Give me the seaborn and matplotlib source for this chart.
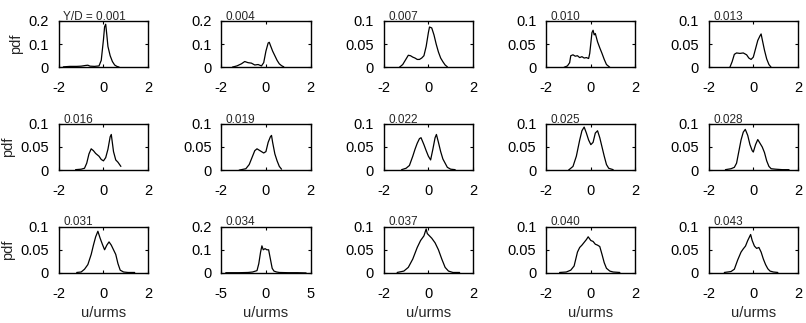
import matplotlib
matplotlib.use("Agg")
import matplotlib.pyplot as plt
import seaborn as sns
import pandas as pd

# Y/D labels for each panel (row by row)
yd_labels = ["Y/D = 0.001", "0.004", "0.007", "0.010", "0.013",
             "0.016", "0.019", "0.022", "0.025", "0.028",
             "0.031", "0.034", "0.037", "0.040", "0.043"]

# pdf curves
x01 = [-1.8, -1.5, -1.2, -1.0, -0.8, -0.7, -0.6, -0.4, -0.2, -0.1, 0.0, 0.05, 0.1, 0.15, 0.2, 0.3, 0.4, 0.5, 0.6, 0.7]
y01 = [0.002, 0.004, 0.004, 0.005, 0.008, 0.009, 0.005, 0.004, 0.006, 0.03, 0.12, 0.175, 0.186, 0.14, 0.09, 0.05, 0.025, 0.01, 0.004, 0.001]

x04 = [-1.5, -1.3, -1.1, -0.95, -0.8, -0.65, -0.5, -0.35, -0.2, -0.1, 0.0, 0.1, 0.15, 0.2, 0.3, 0.4, 0.5, 0.6, 0.7, 0.8]
y04 = [0.001, 0.006, 0.015, 0.025, 0.02, 0.018, 0.01, 0.012, 0.006, 0.02, 0.07, 0.105, 0.108, 0.095, 0.07, 0.05, 0.03, 0.015, 0.007, 0.002]

x07 = [-1.3, -1.15, -1.0, -0.9, -0.8, -0.7, -0.6, -0.5, -0.4, -0.3, -0.2, -0.1, 0.0, 0.05, 0.15, 0.25, 0.35, 0.45, 0.55, 0.65, 0.75, 0.85]
y07 = [0.0, 0.006, 0.018, 0.026, 0.025, 0.022, 0.02, 0.017, 0.017, 0.02, 0.025, 0.045, 0.075, 0.087, 0.085, 0.07, 0.05, 0.033, 0.02, 0.012, 0.005, 0.001]

x10 = [-1.2, -1.05, -0.95, -0.9, -0.8, -0.7, -0.6, -0.5, -0.4, -0.3, -0.2, -0.1, -0.05, 0.05, 0.1, 0.15, 0.2, 0.3, 0.4, 0.5, 0.6, 0.7, 0.85]
y10 = [0.0, 0.003, 0.01, 0.025, 0.027, 0.024, 0.025, 0.021, 0.023, 0.02, 0.021, 0.019, 0.03, 0.075, 0.08, 0.07, 0.073, 0.055, 0.042, 0.03, 0.017, 0.006, 0.0]

x13 = [-1.05, -0.95, -0.85, -0.75, -0.6, -0.45, -0.3, -0.2, -0.1, 0.0, 0.1, 0.2, 0.3, 0.35, 0.4, 0.5, 0.6, 0.7, 0.8]
y13 = [0.0, 0.012, 0.028, 0.031, 0.03, 0.031, 0.027, 0.02, 0.017, 0.022, 0.04, 0.058, 0.068, 0.072, 0.06, 0.037, 0.018, 0.006, 0.0]

x16 = [-1.25, -1.0, -0.85, -0.75, -0.65, -0.55, -0.45, -0.35, -0.2, -0.1, 0.0, 0.1, 0.2, 0.3, 0.35, 0.45, 0.55, 0.65, 0.78]
y16 = [0.001, 0.002, 0.004, 0.015, 0.035, 0.046, 0.042, 0.036, 0.03, 0.023, 0.02, 0.027, 0.045, 0.072, 0.077, 0.04, 0.022, 0.017, 0.008]

x19 = [-1.2, -0.9, -0.75, -0.6, -0.5, -0.4, -0.3, -0.2, -0.1, 0.0, 0.1, 0.2, 0.25, 0.3, 0.4, 0.5, 0.6, 0.7]
y19 = [0.0, 0.003, 0.012, 0.03, 0.042, 0.046, 0.043, 0.04, 0.037, 0.04, 0.06, 0.072, 0.075, 0.06, 0.035, 0.02, 0.008, 0.002]

x22 = [-1.2, -1.0, -0.85, -0.7, -0.6, -0.5, -0.4, -0.33, -0.2, -0.1, 0.0, 0.1, 0.2, 0.3, 0.36, 0.45, 0.55, 0.65, 0.75, 0.85, 1.0, 1.2]
y22 = [0.001, 0.004, 0.01, 0.03, 0.045, 0.058, 0.068, 0.07, 0.055, 0.042, 0.03, 0.022, 0.045, 0.07, 0.077, 0.06, 0.04, 0.024, 0.015, 0.006, 0.002, 0.001]

x25 = [-1.0, -0.8, -0.65, -0.5, -0.4, -0.3, -0.2, -0.1, 0.0, 0.1, 0.2, 0.3, 0.4, 0.5, 0.6, 0.7, 0.8, 1.0]
y25 = [0.0, 0.008, 0.03, 0.065, 0.085, 0.093, 0.08, 0.065, 0.055, 0.06, 0.08, 0.085, 0.07, 0.05, 0.03, 0.012, 0.004, 0.001]

x28 = [-1.25, -1.0, -0.85, -0.75, -0.65, -0.55, -0.45, -0.36, -0.25, -0.15, -0.05, 0.0, 0.1, 0.2, 0.3, 0.4, 0.5, 0.6, 0.7, 0.8, 1.0, 1.3, 1.6]
y28 = [0.001, 0.003, 0.006, 0.015, 0.04, 0.065, 0.082, 0.088, 0.075, 0.055, 0.042, 0.039, 0.055, 0.066, 0.058, 0.05, 0.038, 0.02, 0.008, 0.003, 0.002, 0.001, 0.001]

x31 = [-1.2, -1.0, -0.85, -0.7, -0.55, -0.45, -0.35, -0.25, -0.15, -0.05, 0.05, 0.15, 0.25, 0.35, 0.45, 0.55, 0.65, 0.75, 0.9, 1.1, 1.4]
y31 = [0.001, 0.002, 0.008, 0.018, 0.04, 0.06, 0.078, 0.09, 0.075, 0.062, 0.05, 0.06, 0.067, 0.06, 0.05, 0.04, 0.02, 0.006, 0.002, 0.001, 0.001]

x34 = [-4.5, -3, -2, -1.5, -1.0, -0.8, -0.6, -0.45, -0.3, -0.1, 0.1, 0.3, 0.5, 0.7, 0.9, 1.2, 1.5, 2.5, 3.5, 4.5]
y34 = [0.001, 0.001, 0.002, 0.004, 0.01, 0.04, 0.09, 0.117, 0.1, 0.105, 0.1, 0.1, 0.06, 0.02, 0.008, 0.004, 0.002, 0.001, 0.001, 0.0]

x37 = [-1.4, -1.1, -0.9, -0.7, -0.5, -0.35, -0.2, -0.1, -0.05, 0.05, 0.15, 0.3, 0.45, 0.6, 0.75, 0.9, 1.1, 1.4]
y37 = [0.001, 0.004, 0.012, 0.03, 0.055, 0.07, 0.08, 0.095, 0.085, 0.08, 0.075, 0.065, 0.05, 0.03, 0.012, 0.004, 0.001, 0.001]

x40 = [-1.4, -1.1, -0.9, -0.75, -0.6, -0.5, -0.4, -0.3, -0.2, -0.12, 0.0, 0.1, 0.2, 0.3, 0.4, 0.5, 0.6, 0.7, 0.85, 1.0, 1.3]
y40 = [0.001, 0.002, 0.006, 0.015, 0.045, 0.055, 0.06, 0.066, 0.072, 0.078, 0.07, 0.068, 0.062, 0.06, 0.057, 0.04, 0.022, 0.01, 0.004, 0.002, 0.001]

x43 = [-1.3, -1.0, -0.85, -0.7, -0.55, -0.45, -0.35, -0.25, -0.12, -0.05, 0.05, 0.15, 0.25, 0.35, 0.45, 0.55, 0.65, 0.75, 0.9, 1.1]
y43 = [0.001, 0.003, 0.008, 0.028, 0.045, 0.052, 0.058, 0.07, 0.083, 0.07, 0.058, 0.053, 0.055, 0.045, 0.03, 0.018, 0.009, 0.004, 0.002, 0.001]

curves = [(x01, y01), (x04, y04), (x07, y07), (x10, y10), (x13, y13),
          (x16, y16), (x19, y19), (x22, y22), (x25, y25), (x28, y28),
          (x31, y31), (x34, y34), (x37, y37), (x40, y40), (x43, y43)]

# axis limits per panel
y_max = [0.2, 0.2, 0.1, 0.1, 0.1,
         0.1, 0.1, 0.1, 0.1, 0.1,
         0.1, 0.2, 0.1, 0.1, 0.1]
x_max = [2, 2, 2, 2, 2,
         2, 2, 2, 2, 2,
         2, 5, 2, 2, 2]

sns.set_theme(style="ticks")
plt.rcParams['font.family'] = ['Liberation Sans', 'DejaVu Sans']

fig, axes = plt.subplots(3, 5, figsize=(8.06, 3.23), dpi=100)
fig.subplots_adjust(left=0.073, right=0.990, top=0.935, bottom=0.155, wspace=0.82, hspace=1.22)

for i, ax in enumerate(axes.flat):
    xs, ys = curves[i]
    df = pd.DataFrame({"x": xs, "y": ys})
    sns.lineplot(data=df, x="x", y="y", ax=ax, color="black", linewidth=0.9)

    xm = x_max[i]
    ym = y_max[i]
    ax.set_xlim(-xm, xm)
    ax.set_ylim(0, ym)
    ax.set_xticks([-xm, 0, xm])
    ax.set_xticklabels([f"{-xm:g}", "0", f"{xm:g}"])
    ax.set_yticks([0, ym / 2, ym])
    ax.set_yticklabels(["0", f"{ym / 2:g}", f"{ym:g}"])
    ax.tick_params(direction="in", top=True, right=True, length=2.5, width=0.8,
                   labelsize=10.5, colors="black")
    ax.tick_params(axis="x", pad=10)
    ax.tick_params(axis="y", pad=7)
    for sp in ax.spines.values():
        sp.set_linewidth(1.0)
        sp.set_color("black")

    ax.text(0.05, 0.96, yd_labels[i], transform=ax.transAxes, fontsize=8.5,
            ha="left", va="bottom")

    ax.set_xlabel("u/urms" if i >= 10 else "", fontsize=10.5, labelpad=4)
    ax.set_ylabel("pdf" if i % 5 == 0 else "", fontsize=10.5, labelpad=4)

fig.savefig("out.png", dpi=100)
